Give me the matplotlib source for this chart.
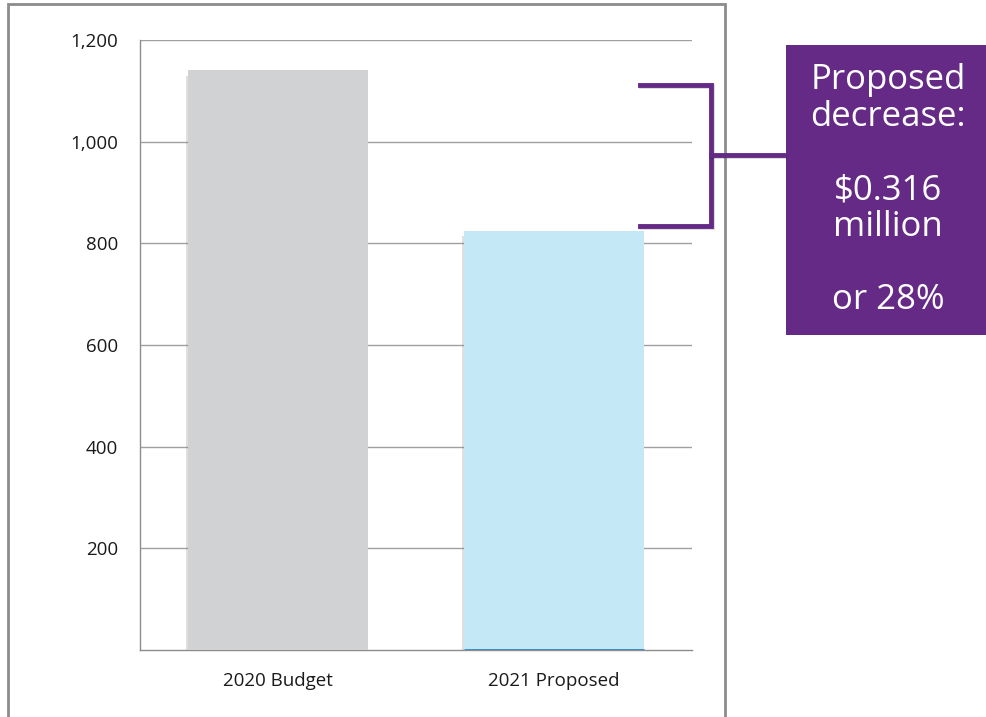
import matplotlib
matplotlib.use("Agg")
import matplotlib.pyplot as plt
from matplotlib.patches import Rectangle
from matplotlib.lines import Line2D
import matplotlib.patheffects as pe

# data (thousands of $)
categories = ["2020 Budget", "2021 Proposed"]
values = [1141, 825]
bar_colors = ["#D1D2D4", "#C5E8F7"]
yticks = [200, 400, 600, 800, 1000, 1200]
ytick_labels = ["200", "400", "600", "800", "1,000", "1,200"]
callout_lines = ["Proposed", "decrease:", "", "$0.316", "million", "", "or 28%"]

plt.rcParams["font.family"] = ["Liberation Sans Narrow", "Open Sans", "DejaVu Sans"]

W, H = 986, 717
fig = plt.figure(figsize=(W / 100, H / 100), dpi=100)
fig.patch.set_facecolor("white")

# outer chart frame
fig.patches.append(Rectangle((8 / W, -0.05), (725 - 8) / W, 1.05 - 4 / H,
                             transform=fig.transFigure, fill=False,
                             edgecolor="#8C8C8C", linewidth=2))

ax = fig.add_axes([140 / W, (H - 650) / H, (692 - 140) / W, (650 - 40) / H])
x = range(len(categories))
bars = ax.bar(x, values, width=0.65, color=bar_colors, zorder=3)
for b in bars:
    b.set_path_effects([pe.SimplePatchShadow(offset=(-2, -4), shadow_rgbFace="#808080", alpha=0.25),
                        pe.Normal()])
# darker line at base of the blue bar
ax.plot([1 - 0.325, 1 + 0.325], [0, 0], color="#2E86C1", linewidth=2, zorder=4,
        solid_capstyle="butt")

ax.set_xlim(-0.5, 1.5)
ax.set_ylim(0, 1200)
ax.set_yticks(yticks)
ax.set_yticklabels(ytick_labels)
ax.set_xticks(list(x))
ax.set_xticklabels(categories)
ax.tick_params(axis="both", length=0, labelsize=13.5, colors="#1A1A1A")
ax.tick_params(axis="x", pad=16)
ax.tick_params(axis="y", pad=16)
ax.yaxis.grid(True, color="#A0A0A0", linewidth=1)
ax.set_axisbelow(True)
for s in ["top", "right"]:
    ax.spines[s].set_visible(False)
for s in ["left", "bottom"]:
    ax.spines[s].set_color("#8C8C8C")
    ax.spines[s].set_linewidth(1)

# bracket
purple = "#652A86"
def fx(px):
    return px / W
def fy(py):
    return 1 - py / H
bracket = [
    ([640, 711, 711, 640], [85, 85, 226, 226]),
    ([711, 783], [155, 155]),
]
for xs, ys in bracket:
    fig.add_artist(Line2D([fx(v) for v in xs], [fy(v) for v in ys],
                          transform=fig.transFigure, color=purple, linewidth=3.5,
                          solid_joinstyle="miter",
                          path_effects=[pe.SimpleLineShadow(offset=(1, -1), alpha=0.15),
                                        pe.Normal()]))

# callout box
fig.patches.append(Rectangle((fx(786), fy(335)), (986 - 786) / W, (335 - 45) / H,
                             transform=fig.transFigure, facecolor=purple,
                             edgecolor="none"))
fig.text(fx(888), fy(190), "\n".join(callout_lines), ha="center", va="center",
         color="white", fontsize=25, linespacing=1.1, family=["Open Sans", "DejaVu Sans"])

fig.savefig("out.png", dpi=100)
